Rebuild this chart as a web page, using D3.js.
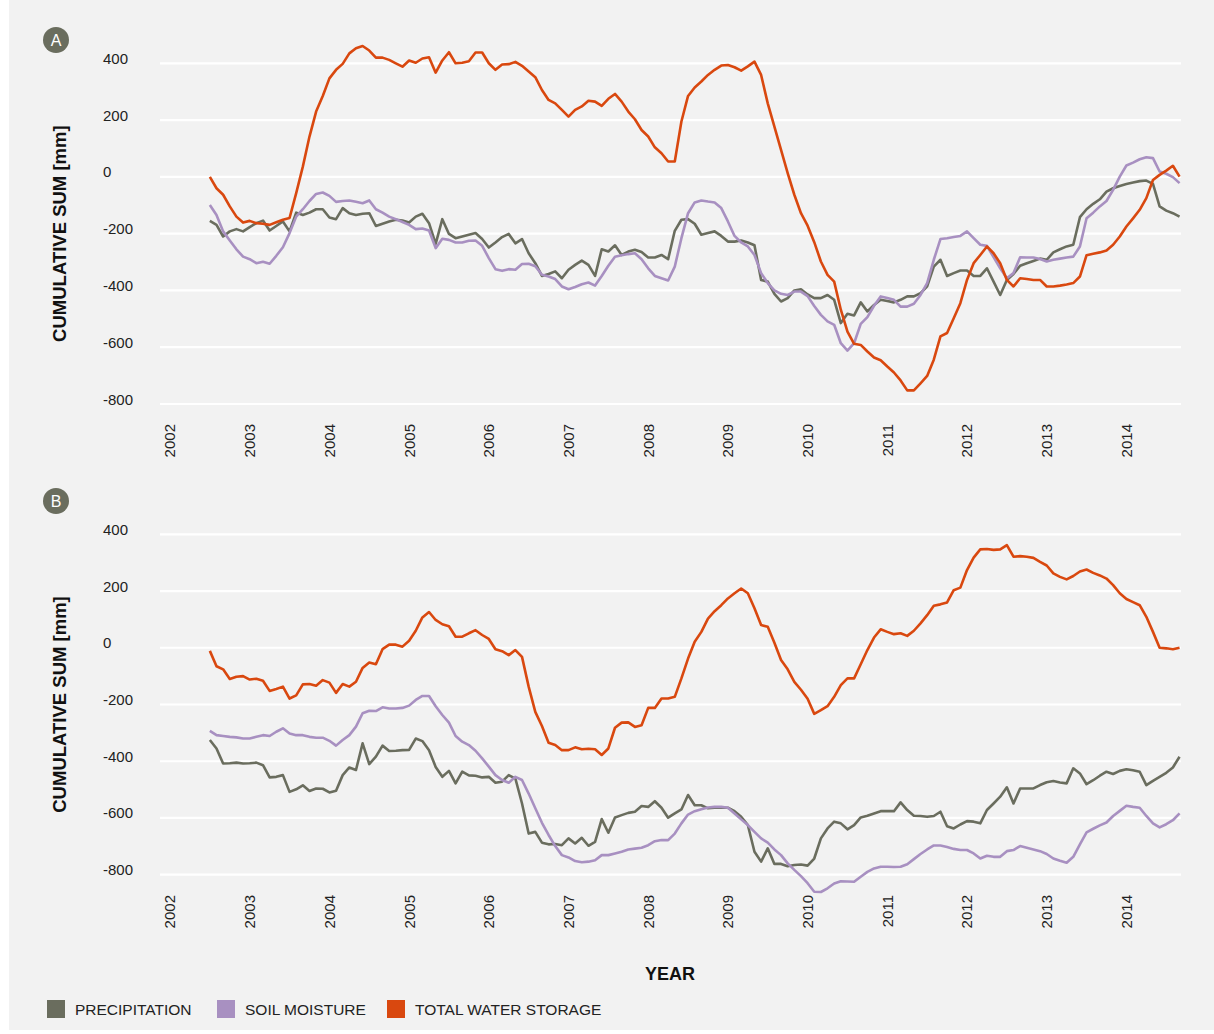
<!DOCTYPE html>
<html>
<head>
<meta charset="utf-8">
<script src="https://cdn.jsdelivr.net/npm/d3@7"></script>
<style>
  body { margin: 0; background: #ffffff; }
  svg { display: block; font-family: "Liberation Sans", Arial, Helvetica, sans-serif; }
</style>
</head>
<body>
<svg id="chart" width="1214" height="1034"></svg>
<script>
// ---------- DATA ----------
const yearTicks = [2002, 2003, 2004, 2005, 2006, 2007, 2008, 2009, 2010, 2011, 2012, 2013, 2014];
const valueTicks = [400, 200, 0, -200, -400, -600, -800];
const seriesNames = ["PRECIPITATION", "SOIL MOISTURE", "TOTAL WATER STORAGE"];
const panelLabels = ["A", "B"];
// monthly values, July 2002 .. September 2014
const firstYear = 2002, firstMonth = 7;

const precipA = [
  -155,-169,-210,-192,-184,-192,-177,-163,-154,-189,
  -173,-157,-192,-126,-134,-126,-114,-114,-143,-149,
  -110,-128,-134,-130,-128,-173,-165,-157,-151,-154,
  -161,-140,-130,-163,-236,-149,-201,-216,-210,-204,
  -198,-219,-249,-231,-212,-201,-234,-219,-269,-304,
  -349,-342,-333,-357,-327,-310,-295,-310,-349,-255,
  -263,-241,-275,-263,-257,-265,-284,-284,-275,-290,
  -190,-151,-149,-165,-204,-198,-192,-208,-228,-228,
  -224,-231,-241,-363,-369,-412,-439,-427,-400,-396,
  -414,-427,-427,-416,-433,-515,-482,-488,-442,-474,
  -451,-433,-437,-442,-433,-421,-421,-410,-386,-316,
  -292,-349,-339,-330,-330,-349,-349,-322,-369,-416,
  -363,-342,-313,-304,-296,-288,-292,-266,-255,-245,
  -239,-142,-114,-95,-79,-52,-40,-32,-25,-20,
  -15,-13,-25,-104,-119,-128,-140
];
const soilA = [
  -99,-134,-192,-224,-255,-281,-290,-304,-299,-306,
  -278,-248,-198,-140,-114,-85,-60,-55,-67,-88,
  -85,-83,-88,-93,-83,-114,-126,-140,-149,-159,
  -169,-184,-182,-189,-251,-218,-222,-231,-231,-225,
  -224,-243,-286,-325,-331,-325,-327,-307,-306,-315,
  -345,-351,-360,-386,-396,-388,-378,-372,-383,-349,
  -313,-281,-276,-272,-269,-290,-322,-349,-357,-365,
  -316,-216,-128,-90,-83,-87,-90,-110,-157,-208,
  -231,-245,-275,-339,-374,-400,-412,-416,-404,-404,
  -420,-455,-486,-509,-521,-586,-612,-586,-518,-494,
  -454,-421,-427,-433,-457,-457,-447,-416,-374,-292,
  -219,-216,-212,-208,-192,-216,-239,-243,-283,-322,
  -357,-339,-283,-284,-284,-289,-298,-292,-288,-284,
  -281,-245,-146,-126,-104,-85,-46,1,40,50,
  62,69,66,19,11,-1,-22
];
const twsA = [
  0,-40,-63,-104,-140,-161,-155,-163,-165,-169,
  -160,-151,-145,-57,36,142,230,285,347,377,
  398,435,453,461,445,420,420,412,400,388,
  410,402,417,421,367,410,439,400,402,407,
  438,438,400,377,396,397,405,391,371,351,
  306,271,259,236,212,236,248,268,265,250,
  275,292,265,230,203,165,142,104,83,54,
  54,195,285,315,336,359,377,392,394,386,
  374,389,406,359,259,177,95,13,-63,-128,
  -172,-230,-298,-345,-369,-468,-545,-588,-592,-615,
  -636,-646,-668,-689,-717,-752,-752,-727,-701,-644,
  -562,-550,-498,-445,-363,-304,-275,-245,-269,-304,
  -363,-386,-357,-360,-363,-363,-386,-386,-383,-379,
  -374,-351,-276,-271,-266,-259,-239,-210,-175,-146,
  -116,-75,-11,7,22,39,1
];

const precipB = [
  -325,-355,-408,-407,-405,-408,-407,-405,-414,-457,
  -455,-449,-508,-499,-485,-505,-496,-497,-510,-504,
  -449,-422,-431,-337,-410,-384,-345,-364,-363,-361,
  -360,-320,-329,-361,-420,-455,-434,-478,-437,-450,
  -451,-457,-455,-476,-472,-449,-461,-549,-655,-649,
  -687,-693,-692,-696,-672,-690,-670,-698,-684,-604,
  -652,-598,-590,-582,-578,-558,-561,-541,-564,-599,
  -584,-570,-519,-555,-555,-566,-564,-564,-564,-576,
  -596,-625,-719,-754,-707,-762,-762,-770,-766,-764,
  -768,-743,-672,-637,-613,-619,-640,-625,-598,-592,
  -584,-576,-576,-576,-545,-572,-592,-593,-596,-593,
  -578,-629,-637,-623,-611,-613,-619,-572,-549,-525,
  -492,-549,-496,-496,-496,-484,-474,-470,-475,-478,
  -425,-443,-481,-467,-451,-437,-445,-434,-428,-432,
  -437,-484,-469,-455,-441,-422,-384
];
const soilB = [
  -293,-308,-311,-314,-316,-320,-320,-314,-308,-311,
  -296,-284,-302,-308,-308,-314,-317,-317,-328,-345,
  -325,-308,-278,-231,-222,-223,-210,-214,-214,-212,
  -204,-184,-170,-170,-206,-237,-264,-311,-331,-343,
  -363,-390,-419,-449,-466,-476,-455,-466,-514,-566,
  -617,-660,-699,-731,-739,-752,-756,-754,-749,-731,
  -731,-725,-719,-711,-708,-705,-696,-682,-678,-678,
  -655,-619,-588,-576,-569,-563,-561,-561,-564,-584,
  -605,-625,-649,-672,-687,-711,-731,-760,-783,-805,
  -830,-860,-861,-848,-831,-823,-824,-825,-807,-790,
  -778,-772,-772,-773,-772,-763,-745,-727,-711,-697,
  -697,-702,-709,-713,-713,-725,-743,-733,-737,-737,
  -717,-713,-699,-705,-711,-717,-727,-743,-751,-758,
  -737,-693,-651,-638,-626,-616,-593,-575,-557,-561,
  -564,-593,-619,-633,-622,-608,-584
];
const twsB = [
  -11,-65,-76,-110,-102,-100,-112,-109,-116,-152,
  -145,-137,-179,-168,-129,-128,-134,-114,-123,-159,
  -128,-137,-120,-71,-52,-58,-5,11,11,4,
  25,60,107,126,98,83,76,39,39,51,
  62,45,31,-5,-12,-26,-8,-32,-137,-226,
  -276,-335,-343,-361,-361,-351,-358,-356,-358,-378,
  -355,-282,-264,-263,-279,-273,-212,-212,-179,-179,
  -173,-108,-38,21,56,103,129,150,174,192,
  209,192,139,80,74,18,-43,-76,-120,-148,
  -180,-233,-220,-206,-173,-132,-108,-108,-58,-8,
  36,65,56,48,51,42,60,86,115,148,
  153,160,203,212,274,318,347,348,345,347,
  362,321,323,321,317,303,290,262,250,241,
  253,269,276,264,255,244,221,192,172,161,
  150,109,56,0,-2,-5,0
];

// ---------- STYLE / LAYOUT ----------
const colors = ["#6a6d5e", "#a890c1", "#d9480f"];
const bg = "#f2f2f2";
const W = 1214, H = 1034;

const svg = d3.select("#chart");
svg.append("rect").attr("x", 9).attr("y", 0).attr("width", W - 9).attr("height", 1030).attr("fill", bg);

const plotLeft = 160, plotRight = 1181;
const x = d3.scaleLinear().domain([2001.8745, 2014.685]).range([plotLeft, plotRight]);
const monthTime = i => firstYear + (firstMonth - 1) / 12 + i / 12;

const panels = [
  { label: panelLabels[0], top: 63.3, bottom: 404, circleY: 40, yearLabelY: 424, series: [precipA, soilA, twsA] },
  { label: panelLabels[1], top: 534.3, bottom: 874.7, circleY: 501, yearLabelY: 895, series: [precipB, soilB, twsB] }
];

panels.forEach(p => {
  const y = d3.scaleLinear().domain([-800, 400]).range([p.bottom, p.top]);
  const g = svg.append("g");

  // gridlines
  g.selectAll("line.grid").data(valueTicks).join("line")
    .attr("x1", plotLeft).attr("x2", plotRight)
    .attr("y1", d => y(d)).attr("y2", d => y(d))
    .attr("stroke", "#ffffff").attr("stroke-width", 2.2);

  // y tick labels (left aligned)
  g.selectAll("text.ytick").data(valueTicks).join("text")
    .attr("x", 103).attr("y", d => y(d) + 0.5)
    .attr("font-size", 15).attr("fill", "#222")
    .text(d => d);

  // x tick labels (rotated)
  g.selectAll("text.xtick").data(yearTicks).join("text")
    .attr("transform", d => `translate(${x(d)},${p.yearLabelY}) rotate(-90)`)
    .attr("text-anchor", "end").attr("dy", "0.36em")
    .attr("font-size", 15).attr("fill", "#222")
    .text(d => d);

  // y title
  g.append("text")
    .attr("transform", `translate(66,${(p.top + p.bottom) / 2}) rotate(-90)`)
    .attr("text-anchor", "middle")
    .attr("font-size", 18.5).attr("font-weight", "bold").attr("fill", "#111")
    .text("CUMULATIVE SUM [mm]");

  // panel label circle
  g.append("circle").attr("cx", 56).attr("cy", p.circleY).attr("r", 13).attr("fill", colors[0]);
  g.append("text").attr("x", 56).attr("y", p.circleY).attr("dy", "0.36em")
    .attr("text-anchor", "middle").attr("font-size", 16).attr("fill", "#fff")
    .text(p.label);

  // lines
  const line = d3.line().x((d, i) => x(monthTime(i))).y(d => y(d));
  p.series.forEach((s, k) => {
    g.append("path").datum(s)
      .attr("d", line)
      .attr("fill", "none")
      .attr("stroke", colors[k])
      .attr("stroke-width", 2.6)
      .attr("stroke-linejoin", "round");
  });
});

// x axis title
svg.append("text").attr("x", 670).attr("y", 980)
  .attr("text-anchor", "middle").attr("font-size", 18).attr("font-weight", "bold").attr("fill", "#111")
  .text("YEAR");

// legend
const legendX = [47, 217, 387];
const lg = svg.append("g");
seriesNames.forEach((name, k) => {
  lg.append("rect").attr("x", legendX[k]).attr("y", 1000).attr("width", 18).attr("height", 18).attr("fill", colors[k]);
  lg.append("text").attr("x", legendX[k] + 28).attr("y", 1009).attr("dy", "0.36em")
    .attr("font-size", 15.5).attr("fill", "#222").text(name);
});
</script>
</body>
</html>
